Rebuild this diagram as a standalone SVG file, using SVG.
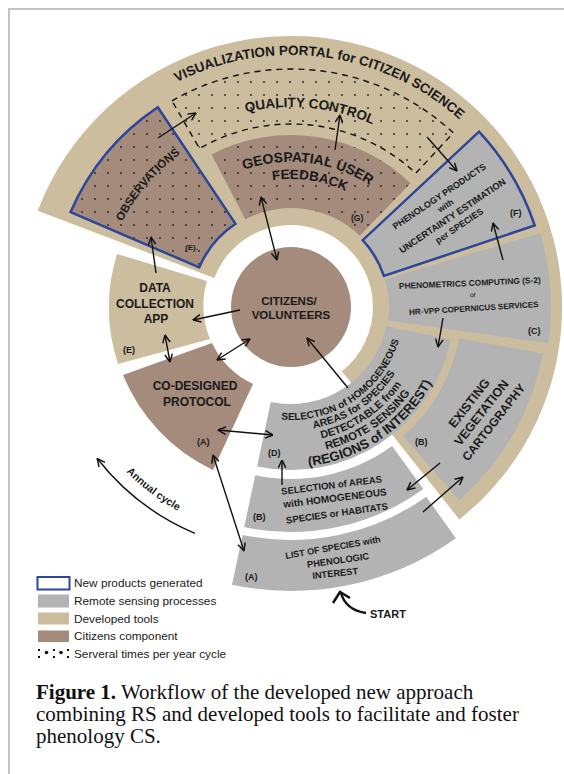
<svg xmlns="http://www.w3.org/2000/svg" width="564" height="774" viewBox="0 0 564 774">
<style>
.b{font-family:'Liberation Sans',Arial,sans-serif;font-weight:bold;fill:#1a1a1a}
.r{font-family:'Liberation Sans',Arial,sans-serif;fill:#1a1a1a}
.tan{fill:#ccbd9f}
.brn{fill:#a48b7c}
.gry{fill:#b3b3b3}
.dots{fill:url(#dots)}
.new{stroke:#2c479a;stroke-width:2.5}
.c{fill:none;stroke:#111;stroke-width:1.4}
.one{marker-end:url(#ah)}
.two{marker-start:url(#ah);marker-end:url(#ah)}
.cap{font-family:'Liberation Serif','Times New Roman',serif;font-size:21px;fill:#111}
</style>
<defs>
<pattern id="dots" width="13" height="13" patternUnits="userSpaceOnUse"><circle cx="4" cy="4" r="0.9" fill="#222"/></pattern>
<marker id="ah" viewBox="0 0 10 10" refX="9.5" refY="5" markerWidth="9" markerHeight="9" markerUnits="userSpaceOnUse" orient="auto-start-reverse"><path d="M0.8,0.8 L9.5,5 L0.8,9.2" fill="none" stroke="#111" stroke-width="1.6"/></marker>
<path id="pPortal" d="M91.1,153.6 A252,252 0 0 1 523.8,210.6"/>
<path id="pQC" d="M128.2,190.9 A200,200 0 0 1 473,224.1"/>
<path id="pGeo1" d="M175.2,219.7 A145,145 0 0 1 424.5,250.3"/>
<path id="pGeo2" d="M190.8,227.3 A128,128 0 0 1 410.1,260.1"/>
<path id="pObs" d="M112.8,370.1 A189,189 0 0 1 325.4,121.2"/>
<path id="pD1" d="M241.5,408.6 A113,113 0 0 0 403.7,299.1"/>
<path id="pD2" d="M236.9,418 A123.5,123.5 0 0 0 414.2,298.4"/>
<path id="pD3" d="M231.8,428.3 A135,135 0 0 0 425.7,297.6"/>
<path id="pD4" d="M226.6,439.1 A147,147 0 0 0 437.6,296.7"/>
<path id="pD5" d="M220.9,450.8 A160,160 0 0 0 450.6,295.8"/>
<path id="pAnn" d="M59.7,278.6 A233,233 0 0 0 382,521.5"/>
</defs>

<path d="M9,774 V9 H564" fill="none" stroke="#c4c4c4" stroke-width="2"/>

<g id="portal">
<path class="tan" d="M37.7,210.8 A271,271 0 1 1 459.3,519.4 L341.9,371.3 A82,82 0 1 0 214.3,277.9 Z"/>
<text class="b" font-size="13.5"><textPath href="#pPortal" startOffset="50%" text-anchor="middle">VISUALIZATION PORTAL  for CITIZEN SCIENCE</textPath></text>
</g>

<g id="quality-control">
<path class="tan" d="M172,100.9 A238,238 0 0 1 453.3,132.9 L415.8,173.2 A183,183 0 0 0 199.5,148.5 Z"/>
<path class="dots" d="M172,100.9 A238,238 0 0 1 453.3,132.9 L415.8,173.2 A183,183 0 0 0 199.5,148.5 Z"/>
<path d="M172,100.9 A238,238 0 0 1 453.3,132.9 L415.8,173.2 A183,183 0 0 0 199.5,148.5 Z" fill="none" stroke="#111" stroke-width="1.4" stroke-dasharray="6,5"/>
<text class="b" font-size="13.5"><textPath href="#pQC" startOffset="50%" text-anchor="middle">QUALITY CONTROL</textPath></text>
</g>

<g id="observations">
<path class="brn" d="M70.6,212.1 A240,240 0 0 1 157.8,107.3 L235.5,223.8 A100,100 0 0 0 199.2,267.4 Z"/>
<path class="dots" d="M70.6,212.1 A240,240 0 0 1 157.8,107.3 L235.5,223.8 A100,100 0 0 0 199.2,267.4 Z"/>
<path class="new" fill="none" d="M70.6,212.1 A240,240 0 0 1 157.8,107.3 L235.5,223.8 A100,100 0 0 0 199.2,267.4 Z"/>
<text class="b" font-size="11.5"><textPath href="#pObs" startOffset="50%" text-anchor="middle">OBSERVATIONS</textPath></text>
<text class="b" x="185" y="250" font-size="8">(E).</text>
</g>

<g id="geospatial">
<path class="brn" d="M211.6,154.4 A172,172 0 0 1 410.5,183.3 L359.8,235.8 A99,99 0 0 0 245.3,219.2 Z"/>
<path class="dots" d="M211.6,154.4 A172,172 0 0 1 410.5,183.3 L359.8,235.8 A99,99 0 0 0 245.3,219.2 Z"/>
<text class="b" font-size="14"><textPath href="#pGeo1" startOffset="50%" text-anchor="middle">GEOSPATIAL USER</textPath></text>
<text class="b" font-size="13.5"><textPath href="#pGeo2" startOffset="50%" text-anchor="middle">FEEDBACK</textPath></text>
<text class="b" x="351" y="221" font-size="8.5">(G)</text>
</g>

<g id="phenology-products">
<path class="gry" d="M479,131.7 A257,257 0 0 1 534.7,225.5 L383.9,275.9 A98,98 0 0 0 362.7,240.2 Z"/>
<path class="new" fill="none" d="M479,131.7 A257,257 0 0 1 534.7,225.5 L383.9,275.9 A98,98 0 0 0 362.7,240.2 Z"/>
<g transform="translate(441,199) rotate(-34)" text-anchor="middle">
<text class="b" x="0" y="0" font-size="9">PHENOLOGY PRODUCTS</text>
<text class="b" x="0" y="11" font-size="8.5">with</text>
<text class="b" x="0" y="23.5" font-size="9.4">UNCERTAINTY ESTIMATION</text>
<text class="b" x="0" y="35.5" font-size="9">per SPECIES</text>
</g>
<text class="b" x="510" y="216" font-size="9">(F)</text>
</g>

<g id="phenometrics">
<path class="gry" d="M540.3,233.2 A260,260 0 0 1 548.5,343.2 L388,320.6 A98,98 0 0 0 385,279.2 Z"/>
<text class="b" x="470" y="286" font-size="8.4" text-anchor="middle" transform="rotate(-2.5 470 286)">PHENOMETRICS  COMPUTING  (S-2)</text>
<text class="r" x="473" y="297" font-size="7" text-anchor="middle" transform="rotate(-3 473 297)">or</text>
<text class="b" x="474" y="311" font-size="8.1" text-anchor="middle" transform="rotate(-3.5 474 311)">HR-VPP COPERNICUS SERVICES</text>
<text class="b" x="528" y="334" font-size="9">(C)</text>
</g>

<g id="vegetation-cartography">
<path class="gry" d="M542.7,353.6 A256,256 0 0 1 459,500.2 L403.2,436.1 A171,171 0 0 0 459.1,338.2 Z"/>
<g transform="translate(469,403) rotate(-52)" text-anchor="middle">
<text class="b" x="0" y="4.5" font-size="12.5">EXISTING</text>
<text class="b" x="0" y="20" font-size="12.5">VEGETATION</text>
<text class="b" x="0" y="35.5" font-size="12">CARTOGRAPHY</text>
</g>
<text class="b" x="415" y="445" font-size="9">(B)</text>
</g>

<g id="homogeneous-areas">
<path class="gry" d="M450.7,339.5 A163,163 0 0 1 257.1,466.4 L270.8,401.9 A97,97 0 0 0 386,326.3 Z"/>
<text class="b" font-size="10"><textPath href="#pD1" startOffset="50%" text-anchor="middle">SELECTION of HOMOGENEOUS</textPath></text>
<text class="b" font-size="10.4"><textPath href="#pD2" startOffset="50%" text-anchor="middle">AREAS for SPECIES</textPath></text>
<text class="b" font-size="10.8"><textPath href="#pD3" startOffset="50%" text-anchor="middle">DETECTABLE from</textPath></text>
<text class="b" font-size="11.4"><textPath href="#pD4" startOffset="50%" text-anchor="middle">REMOTE SENSING</textPath></text>
<text class="b" font-size="13.2"><textPath href="#pD5" startOffset="50%" text-anchor="middle">(REGIONS of INTEREST)</textPath></text>
<text class="b" x="268" y="456" font-size="9">(D)</text>
</g>

<g id="selection-areas">
<path class="gry" d="M423.3,489 A225,225 0 0 1 244.2,527.1 L255.2,475.2 A172,172 0 0 0 392.1,446.1 Z"/>
<text class="b" x="332" y="488.5" font-size="9.5" text-anchor="middle" transform="rotate(-7 332 488.5)">SELECTION of AREAS</text>
<text class="b" x="335.4" y="501.5" font-size="10" text-anchor="middle" transform="rotate(-7 335.4 501.5)">with HOMOGENEOUS</text>
<text class="b" x="337.4" y="516.5" font-size="9.5" text-anchor="middle" transform="rotate(-8 337.4 516.5)">SPECIES  or HABITATS</text>
<text class="b" x="253" y="520" font-size="9">(B)</text>
</g>

<g id="species-list">
<path class="gry" d="M455.9,538.2 A284,284 0 0 1 232,584.8 L242.6,534.9 A233,233 0 0 0 426.3,496.7 Z"/>
<text class="b" x="333.5" y="550.5" font-size="9" text-anchor="middle" transform="rotate(-10 333.5 550.5)">LIST OF SPECIES with</text>
<text class="b" x="338.5" y="563.5" font-size="9.3" text-anchor="middle" transform="rotate(-8 338.5 563.5)">PHENOLOGIC</text>
<text class="b" x="335.5" y="576.5" font-size="9.3" text-anchor="middle" transform="rotate(-6 335.5 576.5)">INTEREST</text>
<text class="b" x="245" y="580" font-size="9">(A)</text>
</g>

<g id="data-collection-app">
<path class="tan" d="M117,254 A182,182 0 0 0 118,364 L210,339 A88,88 0 0 1 207,281 Z"/>
<text class="b" x="155" y="292" font-size="12" text-anchor="middle">DATA</text>
<text class="b" x="155" y="307.5" font-size="12" text-anchor="middle">COLLECTION</text>
<text class="b" x="156" y="323" font-size="12" text-anchor="middle">APP</text>
<text class="b" x="123" y="353" font-size="9">(E)</text>
</g>

<g id="co-designed-protocol">
<path class="brn" d="M123,375 A181,181 0 0 0 213,470 L253,384 A86,86 0 0 1 212,343 Z"/>
<text class="b" x="195" y="389.5" font-size="12" text-anchor="middle">CO-DESIGNED</text>
<text class="b" x="197" y="406" font-size="12" text-anchor="middle">PROTOCOL</text>
<text class="b" x="197" y="445" font-size="9">(A)</text>
</g>

<g id="citizens">
<circle class="brn" cx="291" cy="307" r="60"/>
<text class="b" x="289" y="304.5" font-size="11.5" text-anchor="middle">CITIZENS/</text>
<text class="b" x="291" y="318.5" font-size="11.5" text-anchor="middle">VOLUNTEERS</text>
</g>

<g id="connectors">
<line class="c one" x1="158" y1="138" x2="196" y2="113"/>
<line class="c one" x1="335" y1="150" x2="340" y2="115"/>
<line class="c one" x1="427" y1="137" x2="457" y2="171"/>
<line class="c two" x1="261" y1="197" x2="277" y2="260"/>
<line class="c one" x1="156" y1="273" x2="151" y2="237"/>
<line class="c one" x1="240" y1="310" x2="193" y2="320"/>
<line class="c two" x1="165" y1="335" x2="170" y2="362"/>
<line class="c two" x1="217" y1="360" x2="250" y2="339"/>
<line class="c two" x1="218" y1="430" x2="273" y2="435"/>
<line class="c two" x1="213" y1="455" x2="244" y2="551"/>
<line class="c one" x1="282" y1="485" x2="282" y2="460"/>
<line class="c one" x1="348" y1="388" x2="307" y2="338"/>
<line class="c one" x1="443" y1="318" x2="438" y2="347"/>
<line class="c one" x1="503" y1="260" x2="493" y2="223"/>
<line class="c one" x1="440" y1="463" x2="407" y2="490"/>
<line class="c one" x1="423" y1="512" x2="463" y2="477"/>
<path class="c one" d="M194.9,533.4 A246,246 0 0 1 97.2,458.5"/>
<path d="M366,613 C353,611 344,604 341,593" fill="none" stroke="#111" stroke-width="2.5"/>
<polyline points="333,603 340,592 350,598" fill="none" stroke="#111" stroke-width="2.5"/>
</g>

<g id="labels">
<text class="b" font-size="10.5"><textPath href="#pAnn" startOffset="50%" text-anchor="middle">Annual  cycle</textPath></text>
<text class="b" x="370" y="618" font-size="11">START</text>
</g>

<g id="legend">
<rect x="37.5" y="577" width="32" height="12.5" fill="#fff" stroke="#2c479a" stroke-width="2"/>
<rect class="gry" x="38" y="594.5" width="31" height="13"/>
<rect class="tan" x="38" y="612.5" width="31" height="12"/>
<rect class="brn" x="38" y="630.5" width="31" height="11.5"/>
<g fill="#111">
<rect x="38" y="649" width="2" height="2"/><rect x="38" y="656" width="2" height="2"/>
<circle cx="46.5" cy="652.5" r="1.8"/>
<rect x="53" y="649" width="2" height="2"/><rect x="53" y="656" width="2" height="2"/>
<circle cx="61" cy="652.5" r="1.8"/>
<rect x="67" y="649" width="2" height="2"/><rect x="67" y="656" width="2" height="2"/>
</g>
<text class="r" x="74" y="587" font-size="11.8">New products generated</text>
<text class="r" x="74" y="605" font-size="11.8">Remote sensing processes</text>
<text class="r" x="74" y="623" font-size="11.8">Developed tools</text>
<text class="r" x="74" y="640" font-size="11.8">Citizens component</text>
<text class="r" x="74" y="658" font-size="11.8">Serveral times per year cycle</text>
</g>

<g id="caption">
<text class="cap" x="36" y="699"><tspan font-weight="bold">Figure 1.</tspan> Workflow of the developed new approach</text>
<text class="cap" x="36" y="721">combining RS and developed tools to facilitate and foster</text>
<text class="cap" x="36" y="743">phenology CS.</text>
</g>
</svg>
